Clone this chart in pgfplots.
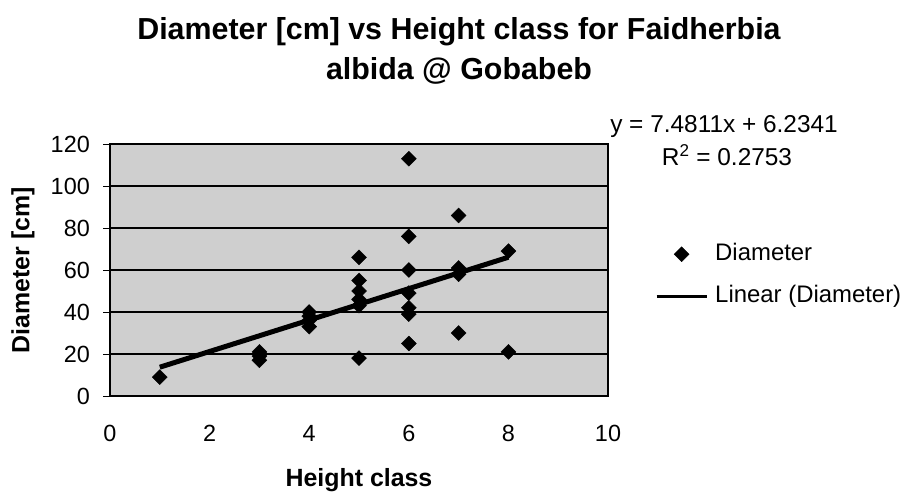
\documentclass[border=0pt]{standalone}
\usepackage{fontspec}
\setmainfont{Liberation Sans}
\usepackage{pgfplots}
\pgfplotsset{compat=1.18}
\pgfplotsset{
  markleg/.style={legend image code/.code={\draw[mark repeat=2,mark phase=2,##1] plot coordinates {(0bp,0bp) (25bp,0bp) (50bp,0bp)};}},
  lineleg/.style={legend image code/.code={\draw[##1, line width=3bp] (0bp,0bp) -- (50bp,0bp);}},
}
\pgfplotstableread{
x y
1 9
3 21
3 19
3 17
4 40
4 38
4 36
4 33
5 66
5 55
5 50
5 46
5 43
5 18
6 113
6 76
6 60
6 49
6 42
6 39
6 25
7 86
7 61
7 58
7 30
8 69
8 21
}\diameterdata
\begin{document}
\begin{tikzpicture}
\path[use as bounding box] (0,0) rectangle (908bp,495bp);
\node[anchor=base, font=\fontsize{30.5}{36}\selectfont\bfseries] at (459bp,455bp) {Diameter [cm] vs Height class for Faidherbia};
\node[anchor=base, font=\fontsize{30.5}{36}\selectfont\bfseries] at (459bp,415bp) {albida @ Gobabeb};
\begin{axis}[
  at={(110bp,99bp)}, anchor=south west,
  width=498bp, height=252bp, scale only axis,
  xmin=0, xmax=10, ymin=0, ymax=120,
  xtick={0,2,...,10}, ytick={0,20,...,120},
  tick align=outside, major tick length=7bp,
  tick style={black, line width=0.8bp},
  xtick style={draw=none},
  xtick pos=lower, ytick pos=left,
  ymajorgrids, grid style={black, line width=1.3bp},
  axis line style={black, line width=1.8bp},
  axis background/.style={fill=black!19},
  /pgf/number format/assume math mode=true,
  tick label style={font=\fontsize{23.5}{26}\selectfont, inner sep=0pt},
  x tick label style={anchor=north, yshift=-22bp},
  y tick label style={anchor=east, xshift=-13bp},
  xlabel={Height class}, ylabel={Diameter [cm]},
  label style={font=\fontsize{25}{30}\selectfont\bfseries},
  xlabel style={at={(axis description cs:0.5,-0.3333)}, anchor=center},
  ylabel style={at={(axis description cs:-0.1747,0.5)}, anchor=center},
  legend style={at={(1.0944,0.607)}, anchor=north west, draw=none, fill=none,
    inner sep=0pt, row sep=20bp,
    font=\fontsize{24}{28}\selectfont,
    nodes={inner sep=0pt, text height=17bp, text depth=5bp},
    /tikz/every odd column/.append style={column sep=7bp}},
  legend cell align=left,
  clip=false,
]
\addplot[only marks, mark=square*, mark size=5.3pt, mark options={rotate=45, black, fill=black}, markleg]
  table[x=x, y=y] {\diameterdata};
\addlegendentry{Diameter}
\addplot[black, line width=5bp, lineleg]
  coordinates {(1,13.7152) (8,66.0829)};
\addlegendentry{Linear (Diameter)}
\node[font=\fontsize{24.5}{28}\selectfont] at (rel axis cs:1.233,1.071) {y = 7.4811x + 6.2341};
\node[font=\fontsize{24.5}{28}\selectfont] at (rel axis cs:1.239,0.956) {R\textsuperscript{2} = 0.2753};
\end{axis}
\end{tikzpicture}
\end{document}
